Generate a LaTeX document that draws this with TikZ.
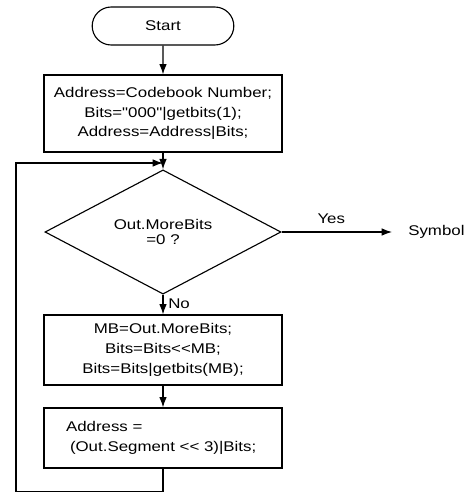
\documentclass[tikz,border=0pt]{standalone}
\usepackage{fontspec}
\setmainfont{Liberation Sans}[FakeStretch=1.2,Ligatures=TeXOff]
\usepackage{tikz}
\usetikzlibrary{arrows.meta,shapes.geometric,shapes.misc}

\begin{document}
\begin{tikzpicture}[every node/.style={font=\fontsize{10}{14}\selectfont},
  box/.style={draw,line width=0.8pt,rectangle,align=center,minimum width=5.95cm},
  term/.style={draw,line width=0.8pt,rounded rectangle,minimum width=3.775cm,minimum height=0.95cm},
  dec/.style={draw,line width=0.8pt,diamond,inner sep=0pt,align=center,minimum width=5.9cm,minimum height=2.25cm,
    font=\fontsize{10}{11}\selectfont},
  flow/.style={line width=0.8pt,-{Latex[length=2.6mm,width=1.9mm]}}]
\useasboundingbox (0,0) rectangle (11.725,-12.3);
\node[term] (start) at (4.075,-0.65) {Start};
\node[box,minimum height=1.925cm] (init) at (4.075,-2.8375)
  {Address=Codebook Number;\\ Bits="000"|getbits(1);\\ Address=Address|Bits;};
\node[dec] (test) at (4.075,-5.8) {Out.MoreBits\\ =0 ?};
\node[box,minimum height=1.75cm] (more) at (4.075,-8.75)
  {MB=Out.MoreBits;\\ Bits=Bits<<MB;\\ Bits=Bits|getbits(MB);};
\node[box,minimum height=1.5cm,align=left,text width=4.85cm,inner xsep=0.55cm] (addr) at (4.075,-10.95)
  {Address =\\ \hspace*{0.1cm}(Out.Segment << 3)|Bits;};
\node[anchor=west,inner xsep=0.4cm] (sym) at (9.8,-5.8) {Symbol};
\coordinate (join) at (4.075,-4.075);
\draw[flow] (start) -- (init);
\draw[flow] (init) -- (test);
\draw[flow] (test) -- node[pos=0.45,above=2pt] {Yes} (sym);
\draw[flow] (test) -- node[pos=0.45,right=0pt] {No} (more);
\draw[flow] (more) -- (addr);
\draw[flow] (addr.south) -- ++(0,-0.575) -| (0.4,-4.075) -- (join);
\end{tikzpicture}
\end{document}
